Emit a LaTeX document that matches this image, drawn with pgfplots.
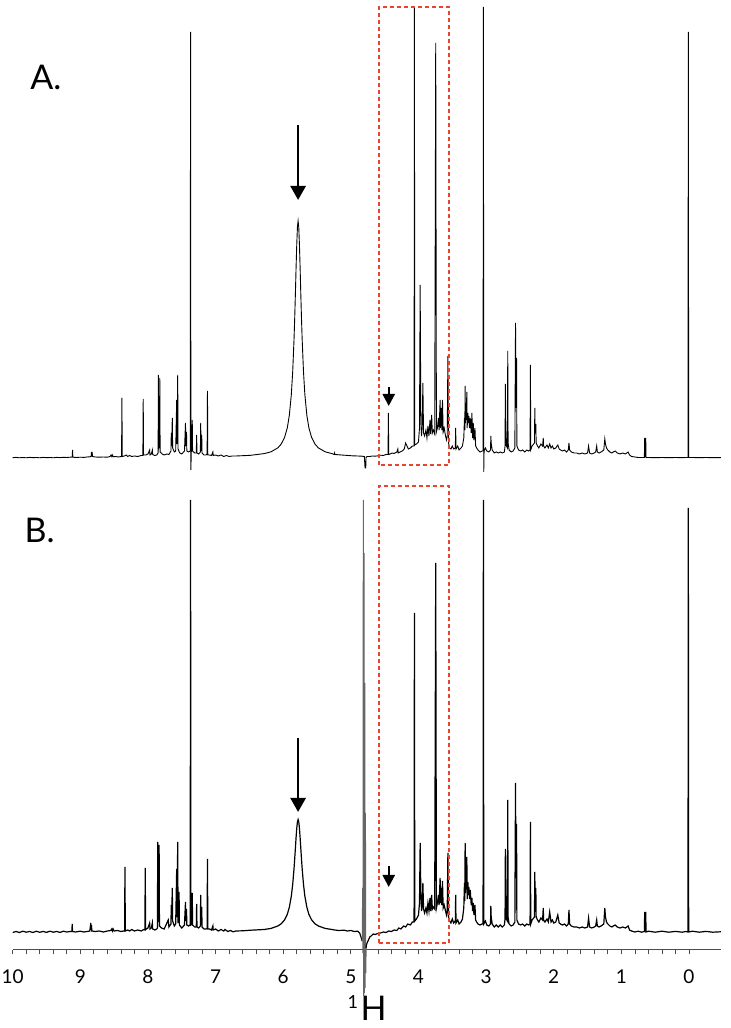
\documentclass[border=0pt]{standalone}
\usepackage{fontspec}
\setmainfont{Lato}
\usepackage{pgfplots}
\pgfplotsset{compat=1.18}
\usetikzlibrary{arrows.meta}
\definecolor{boxred}{RGB}{232,68,48}
\begin{document}
\begin{tikzpicture}
\path[use as bounding box] (0,0) rectangle (365pt,514pt);
\begin{axis}[
 at={(6.35pt,39pt)}, anchor=south west, scale only axis,
 width=354.05pt, height=475pt,
 xmin=-0.47, xmax=10, ymin=78, ymax=1028, x dir=reverse,
 axis x line*=bottom, axis y line=none,
 clip=false,
 xtick={0,1,...,10}, minor x tick num=4,
 tick align=outside, major tick length=2.2pt, minor tick length=2.2pt,
 x axis line style={black!70, line width=0.5pt},
 tick style={black!70, line width=0.4pt},
 xticklabel style={font=\fontsize{9.5}{11}\selectfont, yshift=-4pt},
 /pgf/number format/assume math mode=true,
]
% Spectrum A (x = ppm, h = height above baseline)
\addplot[black, line width=0.45pt] table[x index=0, y expr=\thisrowno{1}+570] {
10.00 0.3
9.95 0.6
9.90 0.2
9.85 0.5
9.80 0.2
9.75 0.6
9.70 0.3
9.65 0.5
9.60 0.2
9.55 0.6
9.50 0.3
9.45 0.5
9.40 0.2
9.35 0.6
9.30 0.4
9.25 0.7
9.20 0.5
9.15 0.8
9.12 0.8
9.115 8
9.11 0.8
9.06 0.5
9.00 0.8
8.95 0.6
8.90 1.0
8.86 1.2
8.84 1.5
8.835 6
8.83 2
8.825 6
8.82 1.5
8.78 1
8.72 0.8
8.66 1
8.60 0.8
8.56 1.5
8.545 3
8.535 1.5
8.525 3
8.515 1.2
8.48 1.5
8.44 1
8.39 1.5
8.385 60
8.38 1.5
8.35 2
8.32 3
8.30 1.5
8.27 2.5
8.24 1.5
8.20 2
8.15 1.5
8.10 2.5
8.075 2.5
8.07 59
8.065 3
8.03 3
8.00 4
7.975 8
7.97 3
7.95 4
7.935 8
7.93 3.5
7.90 2.5
7.87 3
7.85 5
7.845 83
7.84 10
7.83 12
7.825 80
7.82 6
7.79 4
7.76 3
7.72 4
7.69 3.5
7.66 7
7.655 25
7.65 12
7.64 40
7.635 10
7.61 6
7.59 7
7.575 58
7.57 14
7.56 83
7.555 9
7.53 5
7.50 4
7.46 7
7.445 35
7.44 12
7.43 26
7.425 7
7.40 6
7.375 7
7.37 426
7.365 -12
7.36 6
7.35 8
7.345 38
7.34 7
7.31 5
7.285 5
7.28 23
7.275 5
7.25 4
7.225 6
7.22 35
7.215 7
7.205 23
7.20 5
7.17 3
7.14 3
7.125 4
7.12 67
7.115 3
7.09 3
7.06 2.5
7.04 6
7.035 2.5
7.00 3
6.96 2
6.92 3
6.88 1.5
6.84 2.5
6.80 1.5
6.75 2
6.70 2
6.60 2.3
6.48 2.7
6.28 4.4
6.18 6.2
6.08 10.1
6.03 13.9
5.98 20.5
5.94 30
5.91 42.4
5.88 63.5
5.86 86
5.84 119
5.83 140
5.82 164
5.81 190
5.80 213
5.79 230.6
5.78 237
5.77 230.6
5.76 213
5.75 190
5.74 164
5.73 140
5.72 119
5.70 86
5.68 63.5
5.65 42.4
5.62 30
5.58 20.5
5.53 13.9
5.48 10.1
5.38 6.2
5.28 4.4
5.245 3.5
5.24 5
5.235 3.5
5.18 3.2
5.08 2.7
4.98 2.2
4.90 2
4.84 1.8
4.80 1.5
4.79 -10
4.78 -10
4.775 0.5
4.76 1.5
4.72 1.5
4.68 2
4.64 1.8
4.60 2.2
4.56 2.8
4.52 2.5
4.48 3.5
4.45 3.5
4.445 45
4.44 3.5
4.42 4
4.39 5
4.36 4.5
4.32 6
4.305 9
4.30 5
4.27 6
4.24 7
4.21 9
4.19 15
4.17 12
4.15 9
4.12 10
4.09 12
4.065 12
4.06 451
4.055 13
4.03 14
4.00 16
3.985 30
3.975 173
3.965 35
3.955 22
3.945 30
3.935 75
3.925 25
3.91 22
3.89 28
3.875 20
3.86 32
3.845 22
3.83 38
3.82 24
3.805 43
3.795 25
3.78 28
3.76 24
3.745 415
3.735 26
3.72 30
3.705 40
3.695 28
3.68 58
3.675 30
3.665 50
3.655 28
3.645 58
3.635 26
3.62 30
3.60 22
3.585 18
3.575 22
3.565 102
3.555 15
3.54 10
3.52 9
3.50 12
3.48 9
3.455 10
3.45 30
3.445 9
3.42 12
3.40 8
3.37 10
3.35 12
3.33 20
3.32 40
3.315 28
3.31 72
3.305 35
3.30 50
3.295 38
3.285 66
3.28 30
3.27 45
3.26 35
3.255 42
3.245 30
3.235 40
3.22 25
3.21 45
3.20 20
3.19 35
3.18 18
3.165 30
3.155 12
3.14 10
3.12 8
3.09 6
3.06 7
3.045 7
3.04 451
3.035 -14
3.03 7
3.01 10
2.99 7
2.96 6
2.935 8
2.93 22
2.925 15
2.91 8
2.88 5
2.85 6
2.82 5
2.79 6
2.76 5
2.73 6
2.72 12
2.715 74
2.71 40
2.70 12
2.685 10
2.68 107
2.675 15
2.66 8
2.63 6
2.60 7
2.575 10
2.565 135
2.56 50
2.55 100
2.545 12
2.52 8
2.49 7
2.46 8
2.43 6
2.40 8
2.37 7
2.35 8
2.345 93
2.34 8
2.32 12
2.285 15
2.28 50
2.275 25
2.265 34
2.26 15
2.24 12
2.22 10
2.19 14
2.165 12
2.155 20
2.15 12
2.13 10
2.10 13
2.08 10
2.06 14
2.04 10
2.02 12
2.00 9
1.97 10
1.94 13
1.92 9
1.90 8
1.87 7
1.84 8
1.81 6
1.785 8
1.775 15
1.765 8
1.74 6
1.70 5
1.66 5
1.62 4
1.58 5
1.54 4
1.50 5
1.485 12
1.47 5
1.44 4
1.40 5
1.38 6
1.365 12
1.355 6
1.33 5
1.30 6
1.26 8
1.245 19
1.235 14
1.22 10
1.20 8
1.17 6
1.14 5
1.12 6
1.09 7
1.06 5
1.02 4
0.98 5
0.94 4
0.92 5
0.90 6
0.88 3
0.85 1.5
0.80 1
0.75 0.5
0.70 0.5
0.66 0.5
0.655 20
0.65 1
0.64 20
0.635 0.5
0.60 0.5
0.50 0.3
0.40 0.5
0.30 0.3
0.20 0.5
0.10 0.3
0.05 0.5
0.015 0.5
0.01 426
0.005 0.5
-0.05 0.5
-0.15 0.3
-0.25 0.5
-0.35 0.3
-0.47 0.4
};
% Spectrum B, left part
\addplot[black, line width=0.6pt] table[x index=0, y expr=\thisrowno{1}+95] {
10.00 0.5
9.95 1.5
9.90 0.5
9.85 1.8
9.80 0.8
9.75 1.5
9.70 0.5
9.65 1.8
9.60 0.7
9.55 1.6
9.50 0.6
9.45 1.8
9.40 0.8
9.35 1.5
9.30 0.6
9.25 1.8
9.20 1.0
9.15 1.5
9.125 1.5
9.12 9
9.115 1.5
9.07 1
9.00 1.8
8.95 1.0
8.90 1.5
8.86 2
8.845 10
8.84 3
8.835 8
8.83 2
8.78 1.5
8.72 2
8.66 1
8.60 2
8.55 2.5
8.535 4
8.525 2
8.515 4
8.50 2
8.45 2.5
8.40 1.5
8.36 2
8.345 2
8.34 66
8.335 2
8.30 3
8.27 2
8.24 3.5
8.20 2
8.15 3
8.10 2
8.06 3.5
8.045 3
8.04 65
8.035 3.5
8.00 5
7.975 10
7.97 4
7.95 5
7.935 10
7.93 4
7.90 3
7.87 4
7.86 5
7.855 91
7.85 12
7.84 14
7.835 88
7.83 7
7.80 5
7.76 4
7.72 10
7.70 13
7.69 6
7.66 9
7.655 28
7.65 14
7.64 45
7.635 12
7.61 7
7.59 9
7.575 64
7.57 16
7.56 91
7.555 10
7.54 41
7.535 8
7.50 5
7.46 8
7.445 31
7.44 12
7.43 24
7.425 8
7.40 7
7.375 8
7.37 433
7.365 8
7.35 9
7.345 40
7.34 8
7.31 6
7.285 6
7.28 29
7.275 6
7.25 5
7.225 7
7.22 38
7.215 8
7.205 26
7.20 6
7.17 4
7.14 4
7.125 5
7.12 74
7.115 4
7.09 4
7.06 3
7.04 7
7.035 3
7.00 4
6.96 2
6.92 3.5
6.88 2
6.86 3.5
6.82 1.5
6.78 2.5
6.74 1.2
6.70 2
6.60 2.2
6.48 2.8
6.28 3.5
6.18 4.6
6.08 7
6.03 9.2
5.98 13.1
5.94 18.6
5.91 25.6
5.88 36.9
5.86 48.5
5.84 64.5
5.83 74.2
5.82 84.7
5.81 95.3
5.80 104.6
5.79 111.1
5.78 113.5
5.77 111.1
5.76 104.6
5.75 95.3
5.74 84.7
5.73 74.2
5.72 64.5
5.70 48.5
5.68 36.9
5.65 25.6
5.62 18.6
5.58 13.1
5.53 9.2
5.48 7
5.38 4.6
5.28 3.5
5.24 3
5.18 2.5
5.10 2.8
5.05 2
5.00 2.5
4.95 1.5
4.90 1.8
4.87 0
4.85 -4
4.835 -8
};
% Spectrum B, water region
\addplot[black!60, line width=0.55pt] table[x index=0, y expr=\thisrowno{1}+95] {
4.835 -8
4.83 -5
4.825 45
4.82 -20
4.815 433
4.81 -63
4.805 380
4.80 -60
4.795 250
4.79 -55
4.785 120
4.78 -40
4.775 -15
};
% Spectrum B, right part
\addplot[black, line width=0.6pt] table[x index=0, y expr=\thisrowno{1}+95] {
4.775 -15
4.77 -12
4.76 -10
4.74 -7
4.72 -4
4.70 -3
4.67 -1
4.64 -1.5
4.60 -0.5
4.56 0
4.52 1
4.48 0.5
4.44 2
4.40 1.5
4.36 3
4.32 2.5
4.29 5
4.26 4
4.22 7
4.19 6
4.16 9
4.12 8
4.09 11
4.065 11
4.06 320
4.055 12
4.03 14
4.00 18
3.985 30
3.975 90
3.965 40
3.955 22
3.945 28
3.935 50
3.925 24
3.91 20
3.89 25
3.875 20
3.86 30
3.845 22
3.83 35
3.82 22
3.805 38
3.795 24
3.78 26
3.76 24
3.745 370
3.735 25
3.72 30
3.705 38
3.695 28
3.68 55
3.675 30
3.665 45
3.655 28
3.645 52
3.635 25
3.62 28
3.60 22
3.585 18
3.575 22
3.565 80
3.555 16
3.54 12
3.52 10
3.50 14
3.48 10
3.455 12
3.45 38
3.445 10
3.42 13
3.40 9
3.37 11
3.35 14
3.33 25
3.32 50
3.315 32
3.31 90
3.305 40
3.30 60
3.295 45
3.285 76
3.28 34
3.27 51
3.26 38
3.255 46
3.245 34
3.235 43
3.22 28
3.21 35
3.20 22
3.19 30
3.18 18
3.165 28
3.155 13
3.14 11
3.12 9
3.09 8
3.06 9
3.045 9
3.04 433
3.035 9
3.01 12
2.99 8
2.96 7
2.935 9
2.93 27
2.925 16
2.91 9
2.88 6
2.85 8
2.82 6
2.79 8
2.76 6
2.73 8
2.72 14
2.715 84
2.71 45
2.70 14
2.685 12
2.68 133
2.675 16
2.66 9
2.63 7
2.60 8
2.575 11
2.565 150
2.56 55
2.55 109
2.545 13
2.52 9
2.49 8
2.46 9
2.43 7
2.40 9
2.37 8
2.35 9
2.345 111
2.34 9
2.32 13
2.285 16
2.28 61
2.275 28
2.265 45
2.26 16
2.24 13
2.22 11
2.19 15
2.165 13
2.155 25
2.15 13
2.13 11
2.10 14
2.08 11
2.06 21
2.04 11
2.02 13
2.00 10
1.97 11
1.94 18
1.92 10
1.90 9
1.87 8
1.84 9
1.81 7
1.785 9
1.775 23
1.765 9
1.74 7
1.70 6
1.66 6
1.62 5
1.58 6
1.54 5
1.50 6
1.485 15
1.47 6
1.44 5
1.40 6
1.38 7
1.365 13
1.355 7
1.33 6
1.30 7
1.26 9
1.245 25
1.235 16
1.22 11
1.20 9
1.17 7
1.14 6
1.12 7
1.09 8
1.06 6
1.02 5
0.98 6
0.94 5
0.92 6
0.90 7
0.88 3
0.85 2
0.80 1
0.75 1.8
0.70 0.8
0.66 1.5
0.655 21
0.65 1.5
0.64 21
0.635 1
0.60 1.8
0.50 0.8
0.40 1.8
0.30 0.8
0.20 1.6
0.10 0.8
0.05 1.5
0.015 1
0.01 425
0.005 1
-0.05 1.8
-0.15 0.8
-0.25 1.6
-0.35 0.8
-0.47 1.2
};
% highlight boxes
\draw[boxred, line width=1pt, dash pattern=on 2pt off 1.5pt] (axis cs:4.59,563) rectangle (axis cs:3.55,1021);
\draw[boxred, line width=1pt, dash pattern=on 2pt off 1.5pt] (axis cs:4.59,85) rectangle (axis cs:3.55,542);
% arrows
\draw[-{Triangle[length=7pt,width=7.5pt]}, line width=1.3pt] (axis cs:5.78,903) -- (axis cs:5.78,828);
\draw[-{Triangle[length=6pt,width=6pt]}, line width=1.2pt] (axis cs:4.44,641) -- (axis cs:4.44,622);
\draw[-{Triangle[length=7pt,width=7.5pt]}, line width=1.3pt] (axis cs:5.78,290) -- (axis cs:5.78,216);
\draw[-{Triangle[length=6pt,width=6pt]}, line width=1.2pt] (axis cs:4.44,162) -- (axis cs:4.44,141);
% labels
\node[font=\fontsize{17}{20}\selectfont] at (axis cs:9.51,951) {A.};
\node[font=\fontsize{17}{20}\selectfont] at (axis cs:9.60,498) {B.};
\node[font=\fontsize{17}{20}\selectfont] at (axis cs:4.76,20) {\raisebox{5.6pt}{\fontsize{9}{10}\selectfont 1}\hspace{1.2pt}H};
\end{axis}
\end{tikzpicture}
\end{document}
